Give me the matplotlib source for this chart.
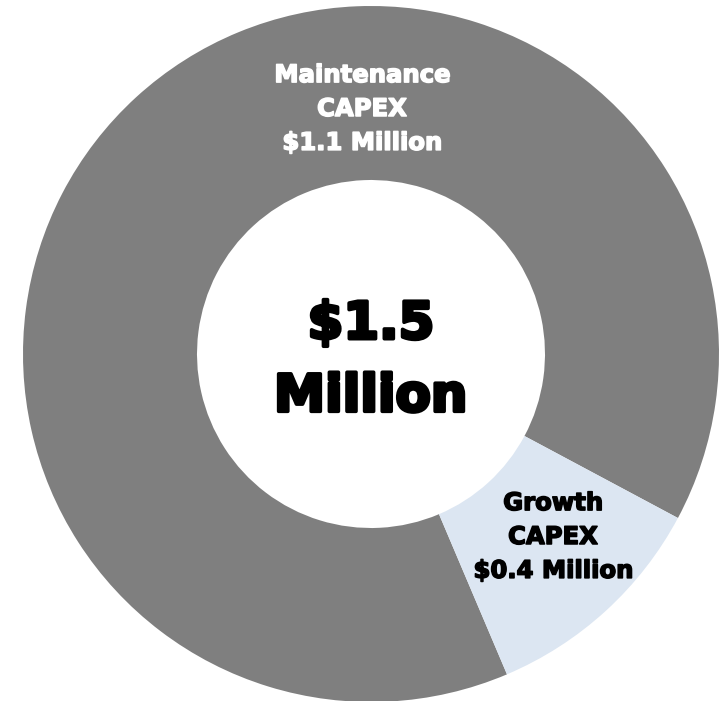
import matplotlib
matplotlib.use("Agg")
import matplotlib.pyplot as plt
import matplotlib.patheffects as pe

# slice shares as drawn (angle), labels as printed
segments = ["Maintenance\nCAPEX\n$1.1 Million", "Growth\nCAPEX\n$0.4 Million"]
shares = [89.2, 10.8]
colors = ["#7f7f7f", "#dce6f2"]
label_colors = ["white", "black"]
center_text = "$1.5\nMillion"

W, H = 723, 701
fig = plt.figure(figsize=(W / 100, H / 100), dpi=100)
ax = fig.add_axes([0, 0, 1, 1])

cx, cy, R = 371, H - 354, 348
ax.pie(shares, colors=colors, startangle=-67, counterclock=False,
       radius=R, center=(cx, cy),
       wedgeprops=dict(width=R * 0.5, edgecolor="none"))

ax.set_xlim(0, W)
ax.set_ylim(0, H)
ax.set_aspect("equal")
ax.axis("off")


def bold_text(x, y, s, size, color, lw=1.0, spacing=1.0):
    ax.text(x, y, s, ha="center", va="center", fontsize=size, color=color,
            family="DejaVu Sans", fontweight="bold", linespacing=spacing,
            path_effects=[pe.withStroke(linewidth=lw, foreground=color)])


bold_text(cx, H - 361, center_text, 37, "black", lw=2.6, spacing=1.58)
bold_text(362, H - 109, segments[0], 17.5, label_colors[0], lw=1.1, spacing=1.52)
bold_text(553, H - 537, segments[1], 17.5, label_colors[1], lw=1.1, spacing=1.52)

fig.savefig("out.png", dpi=100)
